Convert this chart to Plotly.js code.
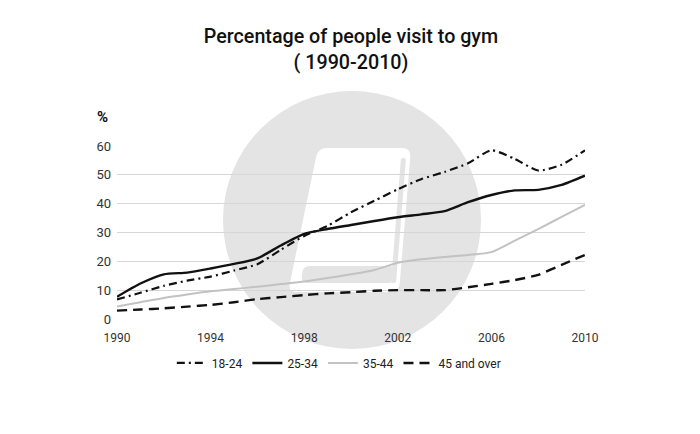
<!DOCTYPE html>
<html>
<head>
<meta charset="utf-8">
<script src="https://cdn.plot.ly/plotly-3.0.1.min.js"></script>
<style>html,body{margin:0;padding:0;background:#fff;}#chart{width:700px;height:434px;}</style>
</head>
<body>
<div id="chart"></div>
<script>
const years = [1990,1991,1992,1993,1994,1995,1996,1997,1998,1999,2000,2001,2002,2003,2004,2005,2006,2007,2008,2009,2010];
const age18_24 = [6.8,9.1,11.5,13.3,14.7,16.8,19.0,24.0,28.8,32.3,37.0,41.0,45.0,48.5,51.0,54.0,58.5,55.5,51.5,53.5,58.5];
const age25_34 = [7.7,12.3,15.5,16.1,17.5,19.1,21.0,25.5,29.5,31.2,32.6,34.0,35.3,36.3,37.4,40.5,43.0,44.6,44.8,46.5,49.7];
const age35_44 = [4.3,5.8,7.3,8.5,9.6,10.4,11.2,12.1,13.0,14.2,15.5,17.0,19.5,20.7,21.5,22.2,23.2,27.2,31.2,35.4,39.6];
const age45plus = [2.9,3.3,3.7,4.3,4.9,5.8,6.9,7.6,8.3,8.9,9.3,9.8,10.0,10.0,10.0,11.0,12.2,13.5,15.3,18.8,22.2];
const seriesNames = ['18-24','25-34','35-44','45 and over'];
const xTicks = [1990,1994,1998,2002,2006,2010];
const yTicks = [0,10,20,30,40,50,60];

// pixel -> paper helpers (layout only, for the watermark)
const L = 117, R = 585, T = 146, B = 319;
const PX = p => (p - L) / (R - L);
const PY = p => (B - p) / (B - T);
function roundedPoly(pts, r) {
  let d = '';
  const n = pts.length;
  for (let i = 0; i < n; i++) {
    const p0 = pts[(i - 1 + n) % n], p1 = pts[i], p2 = pts[(i + 1) % n];
    const d1 = Math.hypot(p0[0]-p1[0], p0[1]-p1[1]), d2 = Math.hypot(p2[0]-p1[0], p2[1]-p1[1]);
    const rr1 = Math.min(r, d1/2), rr2 = Math.min(r, d2/2);
    const a = [p1[0] + (p0[0]-p1[0])*rr1/d1, p1[1] + (p0[1]-p1[1])*rr1/d1];
    const b = [p1[0] + (p2[0]-p1[0])*rr2/d2, p1[1] + (p2[1]-p1[1])*rr2/d2];
    d += (i === 0 ? 'M' : 'L') + PX(a[0]) + ',' + PY(a[1]) + ' Q' + PX(p1[0]) + ',' + PY(p1[1]) + ' ' + PX(b[0]) + ',' + PY(b[1]) + ' ';
  }
  return d + 'Z';
}
const wmGray = '#e4e4e4';
const shapes = [
  {type:'circle', xref:'paper', yref:'paper', x0:PX(223), x1:PX(481), y0:PY(349), y1:PY(91), fillcolor:wmGray, line:{width:0}, layer:'below'},
  {type:'path', xref:'paper', yref:'paper', path: roundedPoly([[318,148],[411,148],[399,292],[288,292]], 9), fillcolor:'#ffffff', line:{width:0}, layer:'below'},
  {type:'path', xref:'paper', yref:'paper', path: roundedPoly([[401,158],[406,158],[396,283],[391,283]], 2), fillcolor:wmGray, line:{width:0}, layer:'below'},
  {type:'path', xref:'paper', yref:'paper', path: roundedPoly([[303,266],[396,266],[395,283],[301,283]], 7), fillcolor:wmGray, line:{width:0}, layer:'below'}
];

const traces = [
  {x: years, y: age18_24, name: seriesNames[0], mode:'lines', line:{color:'#111', width:2.2, dash:'8px,4px,2px,4px', shape:'spline', smoothing:0.6}},
  {x: years, y: age25_34, name: seriesNames[1], mode:'lines', line:{color:'#111', width:2.4, shape:'spline', smoothing:0.6}},
  {x: years, y: age35_44, name: seriesNames[2], mode:'lines', line:{color:'#c2c2c2', width:2, shape:'spline', smoothing:0.6}},
  {x: years, y: age45plus, name: seriesNames[3], mode:'lines', line:{color:'#111', width:2.4, dash:'10px,6px', shape:'spline', smoothing:0.6}}
];

const layout = {
  width: 700, height: 434,
  margin: {l: L, r: 700 - R, t: T, b: 434 - B, pad: 0},
  paper_bgcolor: '#ffffff',
  plot_bgcolor: 'rgba(0,0,0,0)',
  font: {family: 'Roboto, "Open Sans", sans-serif', color: '#222', size: 12},
  title: {text: 'Percentage of people visit to gym<br>( 1990-2010)', font: {size: 19.7, color: '#111', family: 'Roboto, sans-serif', weight: 500}, x: 0.5, xanchor: 'center', xref: 'paper', y: 0.9, yanchor: 'top', yref: 'container'},
  xaxis: {range: [1990, 2010], tickvals: xTicks, ticktext: xTicks.map(String), showgrid: false, zeroline: false, showline: false, ticks: '', ticklabelstandoff: 10, tickfont: {size: 12, color: '#333'}, fixedrange: true},
  yaxis: {range: [0, 60], tickvals: yTicks, ticktext: yTicks.map(String), showgrid: true, gridcolor: '#d6d6d6', gridwidth: 1, zeroline: false, showline: false, ticks: '', ticklabelstandoff: 5, tickfont: {size: 13, color: '#333'}, fixedrange: true},
  showlegend: true,
  legend: {orientation: 'h', x: 0.474, xanchor: 'center', y: -0.254, yanchor: 'middle', bgcolor: 'rgba(0,0,0,0)', font: {size: 12, color: '#222'}, traceorder: 'normal'},
  shapes: shapes,
  annotations: [
    {text: '%', xref: 'paper', yref: 'paper', x: PX(102), y: PY(117), xanchor: 'center', yanchor: 'middle', showarrow: false, font: {size: 15, color: '#111', family: 'Roboto, sans-serif', weight: 'bold'}}
  ]
};

Plotly.newPlot('chart', traces, layout, {displayModeBar: false, staticPlot: true});
</script>
</body>
</html>
